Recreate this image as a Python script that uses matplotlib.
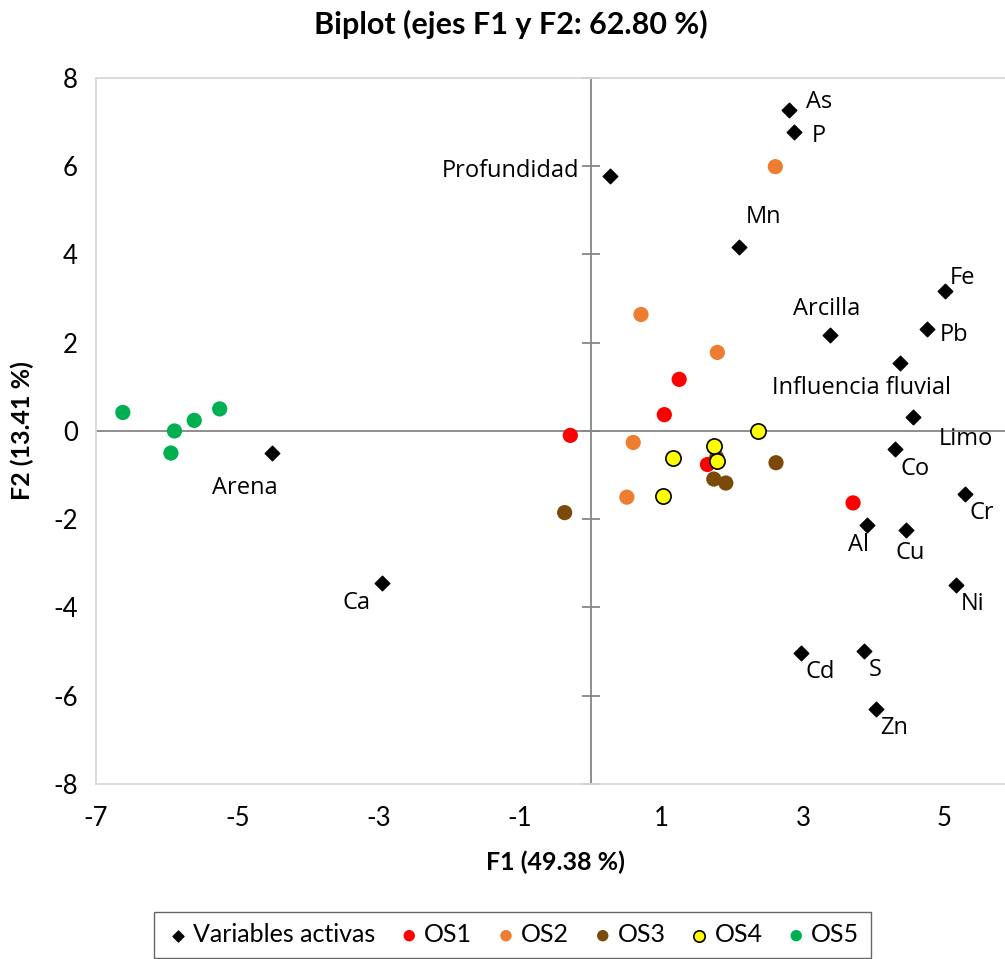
# Biplot of the first two factors (F1 / F2) with active variables and sample groups

import matplotlib.pyplot as plt
import numpy as np

plt.rcParams["font.family"] = ["Lato", "DejaVu Sans"]
plt.rcParams["axes.unicode_minus"] = False

# ------------------------------
# Active variables (loadings)
# ------------------------------

var_names = ["As", "P", "Profundidad", "Mn", "Fe", "Arcilla", "Pb",
             "Influencia fluvial", "Limo", "Co", "Cr", "Al", "Cu", "Ni",
             "Cd", "S", "Zn", "Arena", "Ca"]
var_f1 = [2.80, 2.87, 0.27, 2.10, 5.01, 3.38, 4.76, 4.37, 4.56, 4.30,
          5.29, 3.91, 4.46, 5.16, 2.97, 3.87, 4.03, -4.51, -2.96]
var_f2 = [7.28, 6.77, 5.77, 4.16, 3.18, 2.17, 2.30, 1.55, 0.31, -0.41,
          -1.42, -2.14, -2.25, -3.48, -5.03, -4.99, -6.30, -0.51, -3.44]

# label offsets in pixels (dx, dy, horizontal alignment)
label_offsets = [(30, 8, "center"), (25, -4, "center"), (-31, 5, "right"),
                 (24, 30, "center"), (18, 13, "center"), (-3, 26, "center"),
                 (27, -6, "center"), (-38, -25, "center"), (53, -22, "center"),
                 (20, -20, "center"), (17, -19, "center"), (-9, -20, "center"),
                 (4, -23, "center"), (17, -19, "center"), (19, -19, "center"),
                 (11, -19, "center"), (18, -19, "center"), (-27, -35, "center"),
                 (-25, -20, "center")]

# ------------------------------
# Observations per group
# ------------------------------

os1_f1 = [1.25, 1.04, -0.29, 1.65, 3.71]
os1_f2 = [1.17, 0.37, -0.10, -0.76, -1.63]

os2_f1 = [2.61, 0.71, 1.79, 0.60, 0.51]
os2_f2 = [5.99, 2.64, 1.78, -0.26, -1.50]

os3_f1 = [-0.37, 2.62, 1.74, 1.91, 1.78]
os3_f2 = [-1.85, -0.72, -1.09, -1.18, -0.60]

os4_f1 = [2.37, 1.74, 1.79, 1.16, 1.02]
os4_f2 = [0.00, -0.34, -0.69, -0.62, -1.48]

os5_f1 = [-6.62, -5.89, -5.61, -5.25, -5.94]
os5_f2 = [0.42, 0.00, 0.24, 0.50, -0.50]

groups = [("OS1", os1_f1, os1_f2, "#FF0000", "none"),
          ("OS2", os2_f1, os2_f2, "#ED7D31", "none"),
          ("OS3", os3_f1, os3_f2, "#7B4A0A", "none"),
          ("OS4", os4_f1, os4_f2, "#FFFF00", "black"),
          ("OS5", os5_f1, os5_f2, "#00B050", "none")]

x_ticks = [-7, -5, -3, -1, 1, 3, 5]
y_ticks = [-8, -6, -4, -2, 0, 2, 4, 6, 8]

# ------------------------------
# Plot
# ------------------------------

fig = plt.figure(figsize=(10.05, 9.59), dpi=100)
ax = fig.add_axes([0.0955, 0.1825, 0.9144, 0.7362])

ax.set_xlim(-7, 6)
ax.set_ylim(-8, 8)

axis_grey = "#868686"
ax.axhline(0, color=axis_grey, lw=1.3, zorder=1)
ax.axvline(0, color=axis_grey, lw=1.3, zorder=1)
ax.plot(np.zeros(len(y_ticks)), y_ticks, ls="none", marker="_",
        ms=13, mew=1.3, color=axis_grey, zorder=1, clip_on=False)

ax.scatter(var_f1, var_f2, marker="D", s=55, color="black",
           label="Variables activas", zorder=3)

for name, fx, fy, col, edge in groups:
    ax.scatter(fx, fy, s=120, color=col, edgecolors=edge,
               linewidths=1.2, label=name, zorder=3)

for name, fx, fy, (dx, dy, ha) in zip(var_names, var_f1, var_f2, label_offsets):
    ax.annotate(name, (fx, fy), xytext=(dx, dy), textcoords="offset pixels",
                ha=ha, va="center", fontsize=17, color="black",
                family=["Open Sans", "DejaVu Sans"])

for s in ax.spines.values():
    s.set_color("#D9D9D9")
    s.set_linewidth(1.3)

ax.set_xticks(x_ticks)
ax.set_yticks(y_ticks)
ax.tick_params(axis="both", length=0, labelsize=18.5)
ax.tick_params(axis="x", pad=16)
ax.tick_params(axis="y", pad=13)

ax.set_xlabel("F1 (49.38 %)", fontsize=18, fontweight="bold")
ax.set_ylabel("F2 (13.41 %)", fontsize=18, fontweight="bold")
ax.xaxis.set_label_coords(459 / 919, -67 / 706)
ax.yaxis.set_label_coords(-62 / 919, 0.5)

fig.suptitle("Biplot (ejes F1 y F2: 62.80 %)", x=0.508, y=0.974,
             fontsize=22, fontweight="bold", va="center")

leg = fig.legend(loc="upper center", bbox_to_anchor=(0.51, 0.049), ncol=6,
                 fontsize=18, frameon=True, fancybox=False, borderaxespad=0,
                 handletextpad=0.1, columnspacing=0.85, borderpad=0.45,
                 markerscale=0.75, handlelength=1.0)
leg.get_frame().set_edgecolor("#404040")
leg.get_frame().set_linewidth(1.0)

plt.savefig("out.png")
